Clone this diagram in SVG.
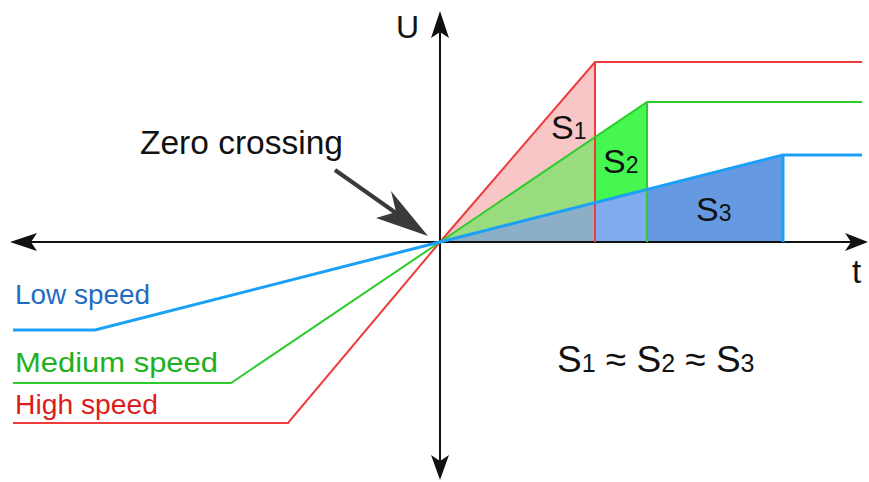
<svg xmlns="http://www.w3.org/2000/svg" width="869" height="482" viewBox="0 0 869 482">
<style>
text{font-family:"Liberation Sans",Arial,sans-serif;fill:#111}
.ax{stroke:#111;stroke-width:2;fill:none}
.ah{fill:#111}
.red{stroke:#ee3b3b;stroke-width:2;fill:none}
.grn{stroke:#2ccc2c;stroke-width:2;fill:none}
.blu{stroke:#1aa0f5;stroke-width:3;fill:none}
</style>
<rect width="869" height="482" fill="#fff"/>
<g id="areas">
<polygon points="440,242 595,62 595,137.2" fill="#f8c6c6"/>
<polygon points="440,242 595,137.2 595,202.7" fill="#99dc80"/>
<polygon points="440,242 595,202.7 595,242" fill="#8cafc8"/>
<polygon points="595,137.2 647,102 647,189.5 595,202.7" fill="#46f752"/>
<polygon points="595,202.7 647,189.5 647,242 595,242" fill="#80abee"/>
<polygon points="647,189.5 783,155 783,242 647,242" fill="#6599e1"/>
</g>
<g id="axes">
<line class="ax" x1="16" y1="242" x2="862" y2="242"/>
<line class="ax" x1="440" y1="16" x2="440" y2="476"/>
<polygon class="ah" points="10,242 37,233 31,242 37,251"/>
<polygon class="ah" points="868,242 845,233 851,242 845,251"/>
<polygon class="ah" points="440,11 431,38 440,32 449,38"/>
<polygon class="ah" points="440,480 431,455 440,461 449,455"/>
<text x="396" y="38" font-size="32">U</text>
<text x="852" y="283" font-size="33">t</text>
</g>
<g id="connectors">
<path class="red" d="M13,423 H288 L440,242 L595,62 H862 M595,62 V242"/>
<path class="grn" d="M13,383 H231 L440,242 L647,102 H862 M647,102 V242"/>
<path class="blu" d="M13,330 H95 L440,242 L783,155 H862 M783,155 V242"/>
</g>
<g id="zero-crossing">
<line x1="335" y1="170" x2="396" y2="213" stroke="#3a3a3a" stroke-width="4"/>
<polygon points="428,236 391,191 396,212 376,218" fill="#3a3a3a"/>
<text x="140" y="154" font-size="33.5">Zero crossing</text>
</g>
<g id="labels">
<text x="551" y="139" font-size="34">S<tspan font-size="23">1</tspan></text>
<text x="603" y="173" font-size="34">S<tspan font-size="23">2</tspan></text>
<text x="696" y="221" font-size="34">S<tspan font-size="23">3</tspan></text>
<text x="15" y="304" font-size="27" textLength="135" lengthAdjust="spacingAndGlyphs" style="fill:#1f6dbf">Low speed</text>
<text x="15" y="372" font-size="27" textLength="203" lengthAdjust="spacingAndGlyphs" style="fill:#20b020">Medium speed</text>
<text x="15" y="414" font-size="27" textLength="143" lengthAdjust="spacingAndGlyphs" style="fill:#dd1c1c">High speed</text>
<text x="557" y="372" font-size="37">S<tspan font-size="25">1</tspan> ≈ S<tspan font-size="25">2</tspan> ≈ S<tspan font-size="25">3</tspan></text>
</g>
</svg>
